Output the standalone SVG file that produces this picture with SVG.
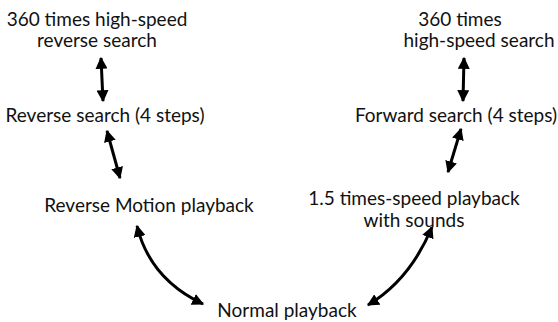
<svg xmlns="http://www.w3.org/2000/svg" width="558" height="322" viewBox="0 0 558 322">
<defs>
<marker id="ah" viewBox="0 0 10 10" refX="9" refY="5" markerWidth="4" markerHeight="4" orient="auto-start-reverse" markerUnits="strokeWidth">
<path d="M0,0 L10,5 L0,10 z" fill="#000"/>
</marker>
<style>
text{font-family:Lato,"Open Sans",sans-serif;font-size:19px;fill:#111;text-anchor:middle}
.c{fill:none;stroke:#000;stroke-width:3;marker-start:url(#ah);marker-end:url(#ah)}
</style>
</defs>
<rect width="558" height="322" fill="#fff"/>
<g id="n-rev360"><text x="97" y="26">360 times high-speed</text><text x="97" y="47">reverse search</text></g>
<g id="n-rev4"><text x="105" y="122">Reverse search (4 steps)</text></g>
<g id="n-revmotion"><text x="149" y="212">Reverse Motion playback</text></g>
<g id="n-normal"><text x="287" y="317">Normal playback</text></g>
<g id="n-fwd360"><text x="460" y="26">360 times</text><text x="479" y="47">high-speed search</text></g>
<g id="n-fwd4"><text x="456" y="122">Forward search (4 steps)</text></g>
<g id="n-fwd15"><text x="414" y="205">1.5 times-speed playback</text><text x="414" y="227">with sounds</text></g>
<g id="connectors">
<path class="c" d="M101,58 L103,101"/>
<path class="c" d="M107,131 L120,178"/>
<path class="c" d="M137,226 Q150,279 203,304"/>
<path class="c" d="M464,58 L463,101"/>
<path class="c" d="M461,129 L448,172"/>
<path class="c" d="M432,227 Q410,280 368,305"/>
</g>
</svg>
